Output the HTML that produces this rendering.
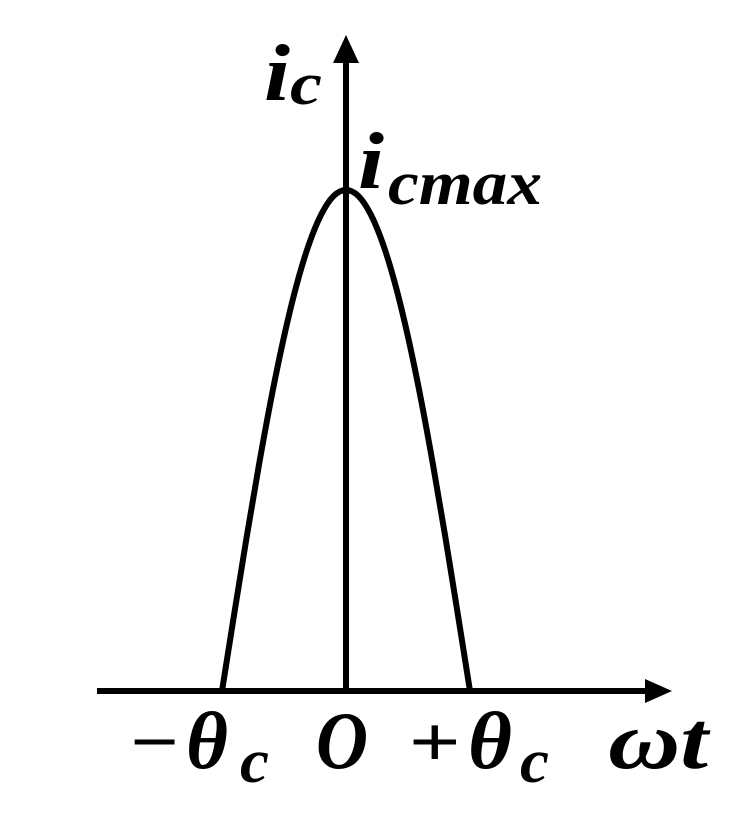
<!DOCTYPE html>
<html><head><meta charset="utf-8"><style>
html,body{margin:0;padding:0;background:#fff;}
svg{display:block;}
text{font-family:"Liberation Serif",serif;font-weight:bold;font-style:italic;fill:#000;}
</style></head><body>
<svg width="750" height="826" viewBox="0 0 750 826">
<line x1="97" y1="691" x2="650" y2="691" stroke="#000" stroke-width="6"/>
<polygon points="645,679 672,691 645,703" fill="#000"/>
<line x1="346" y1="691" x2="346" y2="60" stroke="#000" stroke-width="6"/>
<polygon points="333,63 346,35 359,63" fill="#000"/>
<path id="curve" fill="none" stroke="#000" stroke-width="6"/>
<g>
<text x="264" y="100" font-size="80" textLength="26" lengthAdjust="spacingAndGlyphs">i</text>
<text x="290" y="104" font-size="60" textLength="32" lengthAdjust="spacingAndGlyphs">c</text>
</g>
<g>
<text x="358" y="188" font-size="80" textLength="26" lengthAdjust="spacingAndGlyphs">i</text>
<text x="388" y="204" font-size="62" textLength="154" lengthAdjust="spacingAndGlyphs">cmax</text>
</g>
<g>
<text x="128" y="766" font-size="72" font-style="normal" textLength="52" lengthAdjust="spacingAndGlyphs">−</text>
<text x="186" y="768" font-size="82" textLength="42" lengthAdjust="spacingAndGlyphs">θ</text>
<text x="240" y="782" font-size="62" textLength="29" lengthAdjust="spacingAndGlyphs">c</text>
</g>
<text x="316" y="768" font-size="82" textLength="52" lengthAdjust="spacingAndGlyphs">O</text>
<g>
<text x="408" y="766" font-size="72" font-style="normal" textLength="52" lengthAdjust="spacingAndGlyphs">+</text>
<text x="468" y="768" font-size="82" textLength="44" lengthAdjust="spacingAndGlyphs">θ</text>
<text x="520" y="782" font-size="62" textLength="29" lengthAdjust="spacingAndGlyphs">c</text>
</g>
<text x="608" y="768" font-size="82" textLength="100" lengthAdjust="spacingAndGlyphs">ωt</text>
</svg>
<script>
const phase = [-1,-0.9,-0.8,-0.7,-0.6,-0.5,-0.4,-0.3,-0.2,-0.1,0,0.1,0.2,0.3,0.4,0.5,0.6,0.7,0.8,0.9,1];
const current = [0,0.156,0.309,0.454,0.588,0.707,0.809,0.891,0.951,0.988,1,0.988,0.951,0.891,0.809,0.707,0.588,0.454,0.309,0.156,0];
function xScale(v){return 346 + v*124;}
function yScale(v){return 691 - v*501;}
function smooth(){
  const p = phase.map((v,i)=>[xScale(v), yScale(current[i])]);
  let s = 'M'+p[0][0]+','+p[0][1];
  for (let i=0;i<p.length-1;i++){
    const p0=p[Math.max(i-1,0)],p1=p[i],p2=p[i+1],p3=p[Math.min(i+2,p.length-1)];
    s += 'C'+(p1[0]+(p2[0]-p0[0])/6)+','+(p1[1]+(p2[1]-p0[1])/6)+' '+(p2[0]-(p3[0]-p1[0])/6)+','+(p2[1]-(p3[1]-p1[1])/6)+' '+p2[0]+','+p2[1];
  }
  return s;
}
document.getElementById('curve').setAttribute('d', smooth());
</script>
</body></html>
